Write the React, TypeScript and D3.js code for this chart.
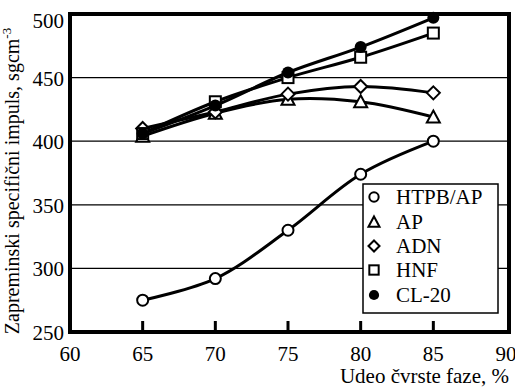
import * as d3 from "d3";

const fazaX = [65, 70, 75, 80, 85];
const htpbAp = [275, 292, 330, 374, 400];
const apVals = [404, 422, 433, 431, 419];
const adnVals = [410, 423, 437, 443, 438];
const hnfVals = [406, 431, 450, 466, 485];
const cl20Vals = [406, 428, 454, 474, 497];

const xTicks = [60, 65, 70, 75, 80, 85, 90];
const yTicks = [250, 300, 350, 400, 450, 500];
const gridVals = [300, 350, 400, 450];

const seriesNames = ["HTPB/AP", "AP", "ADN", "HNF", "CL-20"];
const seriesVals = [htpbAp, apVals, adnVals, hnfVals, cl20Vals];
const seriesSymbols = ["circle", "triangle", "diamond", "square", "dot"];

const Marker = ({ kind, cx, cy, s = 1 }: { kind: string; cx: number; cy: number; s?: number }) => {
  const st = { stroke: "#000", strokeWidth: 2, fill: "#fff" };
  if (kind === "circle") return <circle cx={cx} cy={cy} r={5.5 * s} {...st} />;
  if (kind === "dot") return <circle cx={cx} cy={cy} r={6 * s} fill="#000" />;
  if (kind === "square") {
    const h = 5.5 * s;
    return <rect x={cx - h} y={cy - h} width={2 * h} height={2 * h} {...st} />;
  }
  if (kind === "diamond") {
    const h = 6.5 * s;
    return <path d={`M${cx},${cy - h}L${cx + h},${cy}L${cx},${cy + h}L${cx - h},${cy}Z`} {...st} />;
  }
  // triangle
  const h = 6.5 * s;
  return <path d={`M${cx},${cy - h}L${cx + h},${cy + h * 0.85}L${cx - h},${cy + h * 0.85}Z`} {...st} />;
};

export default function App() {
  const width = 515;
  const height = 387;
  const x = d3.scaleLinear().domain([60, 90]).range([70, 506]);
  const y = d3.scaleLinear().domain([250, 500]).range([332, 14]);
  const left = x(60);
  const right = x(90) + 3;
  const top = y(500);
  const bottom = y(250);

  const line = d3
    .line<number>()
    .x((_, i) => x(fazaX[i]))
    .y((d) => y(d))
    .curve(d3.curveCatmullRom.alpha(0.5));

  const legendRows = [197, 222, 246, 270, 295];

  return (
    <svg width={width} height={height} style={{ position: "absolute", left: 0, top: 0 }}>
      <style>{`text { font-family: "Liberation Serif", serif; fill: #000; }`}</style>
      <rect width={width} height={height} fill="#fff" />
      {/* gridlines */}
      {gridVals.map((v) => (
        <line key={v} x1={left} x2={right} y1={y(v)} y2={y(v)} stroke="#000" strokeWidth={1.3} />
      ))}
      {/* inner x ticks */}
      {xTicks.slice(1, -1).map((t) => (
        <line key={t} x1={x(t)} x2={x(t)} y1={bottom} y2={bottom - 11} stroke="#000" strokeWidth={3} />
      ))}
      {/* series */}
      {seriesVals.map((vals, i) => (
        <path key={i} d={line(vals) || ""} fill="none" stroke="#000" strokeWidth={3} />
      ))}
      {seriesVals.map((vals, i) => (
        <g key={"m" + i}>
          {vals.map((v, j) => (
            <Marker key={j} kind={seriesSymbols[i]} cx={x(fazaX[j])} cy={y(v)} />
          ))}
        </g>
      ))}
      {/* frame */}
      <rect x={left} y={top} width={right - left} height={bottom - top} fill="none" stroke="#000" strokeWidth={4} />
      {/* tick labels */}
      {xTicks.map((t) => (
        <text key={t} x={x(t)} y={361} textAnchor="middle" fontSize={21}>
          {t}
        </text>
      ))}
      {yTicks.map((t) => (
        <text key={t} x={64} y={y(t) + 8 + (t === 500 ? 6 : 0)} textAnchor="end" fontSize={21}>
          {t}
        </text>
      ))}
      {/* axis titles */}
      <text x={509} y={383} textAnchor="end" fontSize={21}>
        Udeo čvrste faze, %
      </text>
      <text transform="translate(19,181) rotate(-90)" textAnchor="middle" fontSize={20}>
        Zapreminski specifični impuls, sgcm
        <tspan dy={-8} fontSize={13}>-3</tspan>
      </text>
      {/* legend */}
      <rect x={363} y={184} width={135} height={129} fill="#fff" stroke="#000" strokeWidth={1.5} />
      {seriesNames.map((n, i) => (
        <g key={n}>
          <Marker kind={seriesSymbols[i]} cx={374} cy={legendRows[i]} s={0.85} />
          <text x={396} y={legendRows[i] + 7} fontSize={21}>
            {n}
          </text>
        </g>
      ))}
    </svg>
  );
}
